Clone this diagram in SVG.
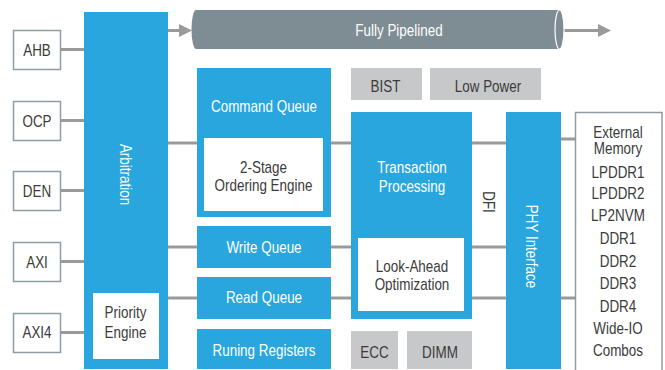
<svg xmlns="http://www.w3.org/2000/svg" width="665" height="370" viewBox="0 0 665 370">
  <style>
    text { font-family: "Liberation Sans", Arial, sans-serif; font-size: 16px; text-anchor: middle; }
    .blue { fill: #29a6de; }
    .white { fill: #ffffff; }
    .grey { fill: #c7c8ca; }
    .port { fill: #ffffff; stroke: #8e9ca5; stroke-width: 1.5; }
    .lt { fill: #ffffff; }
    .dk { fill: #3b3b3b; }
    .wire { stroke: #9a9a9a; stroke-width: 3; fill: none; }
  </style>
  <defs>
    <marker id="head" markerUnits="userSpaceOnUse" markerWidth="13" markerHeight="13" viewBox="0 0 13 13" refX="7" refY="6.5" orient="auto">
      <path d="M0,0 L13,6.5 L0,13 Z" fill="#9a9a9a"/>
    </marker>
  </defs>

  <rect width="665" height="370" fill="#ffffff"/>

  <!-- connectors -->
  <g id="connectors">
    <!-- ports into arbitration -->
    <line class="wire" x1="60" y1="49.5" x2="85" y2="49.5"/>
    <line class="wire" x1="60" y1="120.5" x2="85" y2="120.5"/>
    <line class="wire" x1="60" y1="190.5" x2="85" y2="190.5"/>
    <line class="wire" x1="60" y1="261.5" x2="85" y2="261.5"/>
    <line class="wire" x1="60" y1="332.5" x2="85" y2="332.5"/>
    <!-- arbitration to queues -->
    <line class="wire" x1="167" y1="143" x2="198" y2="143"/>
    <line class="wire" x1="167" y1="247" x2="198" y2="247"/>
    <line class="wire" x1="167" y1="298" x2="198" y2="298"/>
    <!-- queues to transaction processing -->
    <line class="wire" x1="330" y1="143" x2="352" y2="143"/>
    <line class="wire" x1="330" y1="247" x2="352" y2="247"/>
    <line class="wire" x1="330" y1="298" x2="352" y2="298"/>
    <!-- transaction processing to PHY -->
    <line class="wire" x1="471" y1="143" x2="507" y2="143"/>
    <line class="wire" x1="471" y1="247" x2="507" y2="247"/>
    <line class="wire" x1="471" y1="298" x2="507" y2="298"/>
    <!-- PHY to external memory -->
    <line class="wire" x1="560" y1="139" x2="576" y2="139"/>
    <line class="wire" x1="560" y1="298" x2="576" y2="298"/>
    <!-- pipeline arrows -->
    <line class="wire" x1="167" y1="30.5" x2="186" y2="30.5" marker-end="url(#head)"/>
    <line class="wire" x1="563" y1="30.5" x2="605" y2="30.5" marker-end="url(#head)"/>
  </g>

  <!-- input ports (labels narrowed horizontally to a condensed face) -->
  <g id="ahb"><rect class="port" x="13.5" y="30.5" width="47" height="39"/><text class="dk" transform="translate(37,56) scale(0.84,1)">AHB</text></g>
  <g id="ocp"><rect class="port" x="13.5" y="101.5" width="47" height="39"/><text class="dk" transform="translate(37,127) scale(0.84,1)">OCP</text></g>
  <g id="den"><rect class="port" x="13.5" y="171.5" width="47" height="39"/><text class="dk" transform="translate(37,197) scale(0.84,1)">DEN</text></g>
  <g id="axi"><rect class="port" x="13.5" y="242.5" width="47" height="39"/><text class="dk" transform="translate(37,268) scale(0.84,1)">AXI</text></g>
  <g id="axi4"><rect class="port" x="13.5" y="313.5" width="47" height="39"/><text class="dk" transform="translate(37,338) scale(0.84,1)">AXI4</text></g>

  <!-- arbitration with priority engine -->
  <g id="arbitration">
    <rect class="blue" x="84" y="12" width="84" height="357"/>
    <text class="lt" transform="translate(120,174.5) rotate(90) scale(0.84,1)">Arbitration</text>
    <rect class="white" x="93" y="293" width="66" height="66"/>
    <text class="dk" transform="translate(125.5,318) scale(0.84,1)">Priority</text>
    <text class="dk" transform="translate(125.5,337.5) scale(0.84,1)">Engine</text>
  </g>

  <!-- pipeline cylinder -->
  <g id="pipeline">
    <path d="M196,10 H559.5 V49 H196 A4.5,19.5 0 0 1 196,10 Z" fill="#7e8c93"/>
    <ellipse cx="559.5" cy="29.5" rx="4.5" ry="19.5" fill="#7e8c93" stroke="#ffffff" stroke-width="1.2"/>
    <text class="lt" transform="translate(399,36) scale(0.84,1)">Fully Pipelined</text>
  </g>

  <!-- queues -->
  <g id="command-queue">
    <rect class="blue" x="197" y="68" width="134" height="149"/>
    <text class="lt" transform="translate(264,111.5) scale(0.84,1)">Command Queue</text>
    <rect class="white" x="204" y="138" width="119" height="73"/>
    <text class="dk" transform="translate(263.5,172.5) scale(0.84,1)">2-Stage</text>
    <text class="dk" transform="translate(263.5,191) scale(0.84,1)">Ordering Engine</text>
  </g>
  <g id="write-queue">
    <rect class="blue" x="197" y="226" width="134" height="42"/>
    <text class="lt" transform="translate(264,252.5) scale(0.84,1)">Write Queue</text>
  </g>
  <g id="read-queue">
    <rect class="blue" x="197" y="277" width="134" height="42"/>
    <text class="lt" transform="translate(264,302.5) scale(0.84,1)">Read Queue</text>
  </g>
  <g id="running-registers">
    <rect class="blue" x="197" y="329" width="134" height="40"/>
    <text class="lt" transform="translate(264,356) scale(0.84,1)">Runing Registers</text>
  </g>

  <!-- auxiliary blocks -->
  <g id="bist"><rect class="grey" x="351" y="68" width="71" height="32"/><text class="dk" transform="translate(385.5,91.5) scale(0.84,1)">BIST</text></g>
  <g id="low-power"><rect class="grey" x="430" y="68" width="111" height="32"/><text class="dk" transform="translate(488,91.5) scale(0.84,1)">Low Power</text></g>
  <g id="ecc"><rect class="grey" x="351" y="331" width="47" height="38"/><text class="dk" transform="translate(374.5,358) scale(0.84,1)">ECC</text></g>
  <g id="dimm"><rect class="grey" x="407" y="331" width="65" height="38"/><text class="dk" transform="translate(440,358) scale(0.84,1)">DIMM</text></g>

  <!-- transaction processing -->
  <g id="transaction-processing">
    <rect class="blue" x="351" y="112" width="121" height="207"/>
    <text class="lt" transform="translate(412,173) scale(0.84,1)">Transaction</text>
    <text class="lt" transform="translate(412,191.5) scale(0.84,1)">Processing</text>
    <rect class="white" x="358" y="238" width="106" height="73"/>
    <text class="dk" transform="translate(412,271.5) scale(0.84,1)">Look-Ahead</text>
    <text class="dk" transform="translate(412,290) scale(0.84,1)">Optimization</text>
  </g>

  <!-- DFI label -->
  <g id="dfi"><text class="dk" transform="translate(482.5,202) rotate(90) scale(0.84,1)">DFI</text></g>

  <!-- PHY interface -->
  <g id="phy-interface">
    <rect class="blue" x="506" y="112" width="55" height="257"/>
    <text class="lt" transform="translate(525.5,246.5) rotate(90) scale(0.84,1)">PHY Interface</text>
  </g>

  <!-- external memory -->
  <g id="external-memory">
    <rect class="port" x="575.5" y="112.5" width="86.5" height="270"/>
    <text class="dk" transform="translate(618,137.5) scale(0.84,1)">External</text>
    <text class="dk" transform="translate(618,154) scale(0.84,1)">Memory</text>
    <text class="dk" transform="translate(618,177.5) scale(0.84,1)">LPDDR1</text>
    <text class="dk" transform="translate(618,199) scale(0.84,1)">LPDDR2</text>
    <text class="dk" transform="translate(618,221) scale(0.84,1)">LP2NVM</text>
    <text class="dk" transform="translate(618,244) scale(0.84,1)">DDR1</text>
    <text class="dk" transform="translate(618,266.5) scale(0.84,1)">DDR2</text>
    <text class="dk" transform="translate(618,289) scale(0.84,1)">DDR3</text>
    <text class="dk" transform="translate(618,311.5) scale(0.84,1)">DDR4</text>
    <text class="dk" transform="translate(618,334) scale(0.84,1)">Wide-IO</text>
    <text class="dk" transform="translate(618,355.5) scale(0.84,1)">Combos</text>
  </g>
</svg>
